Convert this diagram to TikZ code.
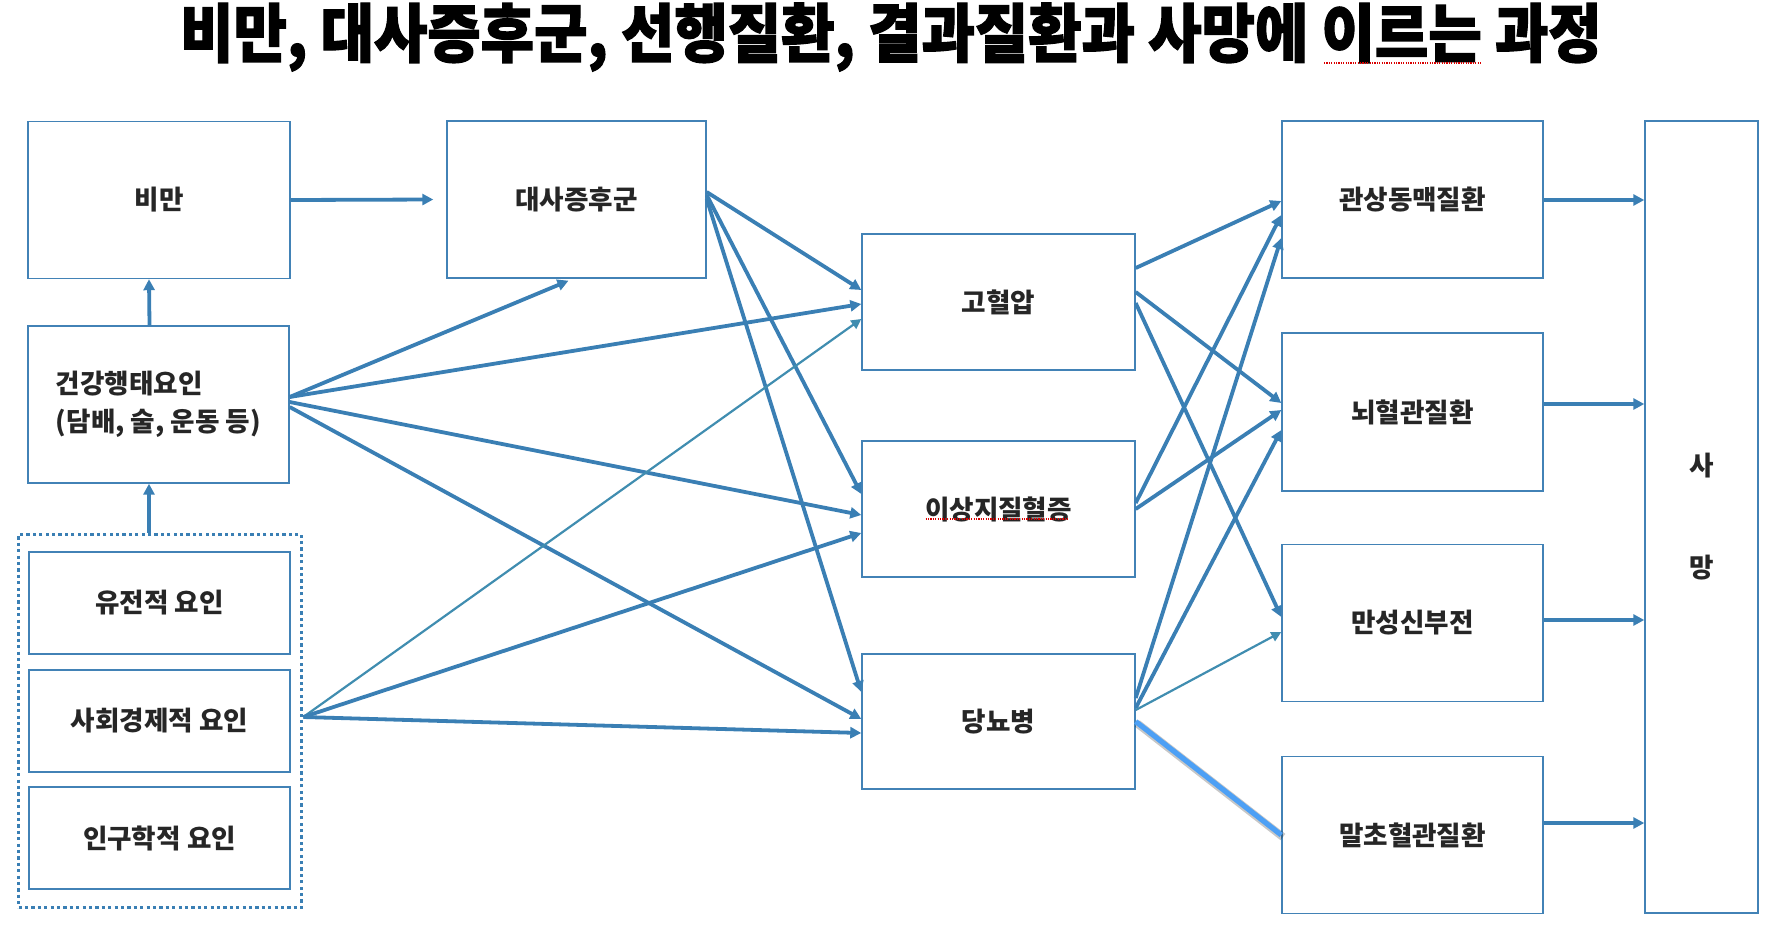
\documentclass[tikz,border=0pt]{standalone}
\usepackage{graphicx}
\usepackage{fontspec}
\setmainfont{Noto Sans CJK KR}
\newfontfamily\titlefont{Noto Sans CJK KR}[FakeBold=2]
\usetikzlibrary{arrows.meta, positioning, calc}

\definecolor{linkblue}{RGB}{58,127,180}
\definecolor{thinblue}{RGB}{64,141,176}
\definecolor{glowblue}{RGB}{77,160,245}
\definecolor{boxblue}{RGB}{66,130,182}

\begin{document}
\begin{tikzpicture}[
    x=0.5pt, y=-0.5pt,
    every node/.style={inner sep=0pt, align=center, text=black!85,
        font=\bfseries\fontsize{13.3}{19}\selectfont},
    box/.style 2 args={draw=boxblue, line width=0.7pt,
        minimum width=#1*0.5pt, minimum height=#2*0.5pt},
    dotbox/.style={draw=linkblue, line width=1.8pt, dash pattern=on 1.6pt off 1.6pt,
        minimum width=283*0.5pt, minimum height=373*0.5pt},
    link/.style={draw=linkblue, line width=1.9pt, -{Triangle[length=5.5pt, width=5.5pt]}},
    thinlink/.style={draw=thinblue, line width=1.1pt, -{Triangle[length=5pt, width=5pt]}},
    shadowline/.style={draw=black, opacity=0.22, line width=4pt,
        transform canvas={shift={(0.8pt,-1pt)}}},
    glowline/.style={draw=glowblue, line width=2.6pt},
    squiggle/.style={draw=red!85!black, line width=0.6pt, dash pattern=on 0.6pt off 0.6pt}
]
\useasboundingbox (0,0) rectangle (1774,928);

\node[font=\titlefont\bfseries\fontsize{29}{32}\selectfont, text=black] (title) at (891,37)
    {\scalebox{1}[1.1]{비만, 대사증후군, 선행질환, 결과질환과 사망에 이르는 과정}};
\draw[squiggle] (1324,63) -- (1482,63);

% risk factors
\node[box={262}{157}] (obesity) at (159,200) {비만};
\node[box={261}{157}, align=left] (behav) at (158.5,404.5) {건강행태요인\\(담배, 술, 운동 등)};
\node[dotbox] (factors) at (160,721) {};
\node[box={261}{102}] (gene) at (159.5,603) {유전적 요인};
\node[box={261}{102}] (socio) at (159.5,721) {사회경제적 요인};
\node[box={261}{102}] (demo) at (159.5,838) {인구학적 요인};

% preceding diseases
\node[box={259}{157}] (metsyn) at (576.5,199.5) {대사증후군};
\node[box={273}{136}] (htn) at (998.5,302) {고혈압};
\node[box={273}{136}] (dyslip) at (998.5,509) {이상지질혈증};
\node[box={273}{135}] (dm) at (998.5,721.5) {당뇨병};
\draw[squiggle] ($(dyslip.center)+(-73,10)$) -- ($(dyslip.center)+(70,10)$);

% outcome diseases
\node[box={261}{157}] (chd) at (1412.5,199.5) {관상동맥질환};
\node[box={261}{158}] (cvd) at (1412.5,412) {뇌혈관질환};
\node[box={261}{157}] (ckd) at (1412.5,623) {만성신부전};
\node[box={261}{157}] (pad) at (1412.5,835) {말초혈관질환};
\node[box={113}{792}] (death) at (1701.5,517) {사\\[32pt]망};

% left part
\draw[link] (obesity.east) -- ($(metsyn.west)+(-13,0)$);
\draw[link] ($(behav.north)+(-9,0)$) -- ($(obesity.south)+(-10,0)$);
\draw[link] ($(factors.north)+(-11,0)$) -- ($(behav.south)+(-9.5,0)$);
\draw[link] ($(behav.east)+(0,-7.5)$) -- ($(metsyn.south)+(-8,2)$);
\draw[link] ($(behav.east)+(0,-7.5)$) -- ($(htn.west)+(0,2)$);
\draw[link] ($(behav.east)+(0,-2.5)$) -- ($(dyslip.west)+(0,6)$);
\draw[link] ($(behav.east)+(0,2.5)$) -- ($(dm.west)+(0,-2.5)$);
\draw[link] ($(metsyn.east)+(0,-7.5)$) -- ($(htn.west)+(0,-12)$);
\draw[link] ($(metsyn.east)+(0,-4.5)$) -- ($(dyslip.west)+(0,-15)$);
\draw[link] ($(metsyn.east)+(0,-0.5)$) -- ($(dm.west)+(0,-29.5)$);
\draw[thinlink] ($(factors.east)+(0,-4)$) -- ($(htn.west)+(0,17)$);
\draw[link] ($(factors.east)+(0,-4)$) -- ($(dyslip.west)+(0,24)$);
\draw[link] ($(factors.east)+(0,-4)$) -- ($(dm.west)+(0,11.5)$);

% right part
\draw[link] ($(htn.east)+(0,-34)$) -- ($(chd.west)+(0,1.5)$);
\draw[link] ($(htn.east)+(0,-10)$) -- ($(cvd.west)+(0,-9)$);
\draw[link] ($(htn.east)+(0,1)$) -- ($(ckd.west)+(0,-6)$);
\draw[link] ($(dyslip.east)+(0,-6)$) -- ($(chd.west)+(0,15.5)$);
\draw[link] (dyslip.east) -- ($(cvd.west)+(0,-2)$);
\draw[link] ($(dm.east)+(0,-23.5)$) -- ($(chd.west)+(0,38.5)$);
\draw[link] ($(dm.east)+(0,-13.5)$) -- ($(cvd.west)+(0,18)$);
\draw[thinlink] ($(dm.east)+(0,-11.5)$) -- ($(ckd.west)+(0,9)$);
\draw[shadowline] (dm.east) -- (pad.west);
\draw[glowline] (dm.east) -- (pad.west);

% to death
\draw[link] ($(chd.east)+(0,0.5)$) -- ($(death.west |- chd.east)+(0,0.5)$);
\draw[link] ($(cvd.east)+(0,-8)$) -- ($(death.west |- cvd.east)+(0,-8)$);
\draw[link] ($(ckd.east)+(0,-3)$) -- ($(death.west |- ckd.east)+(0,-3)$);
\draw[link] ($(pad.east)+(0,-12)$) -- ($(death.west |- pad.east)+(0,-12)$);

\end{tikzpicture}
\end{document}
